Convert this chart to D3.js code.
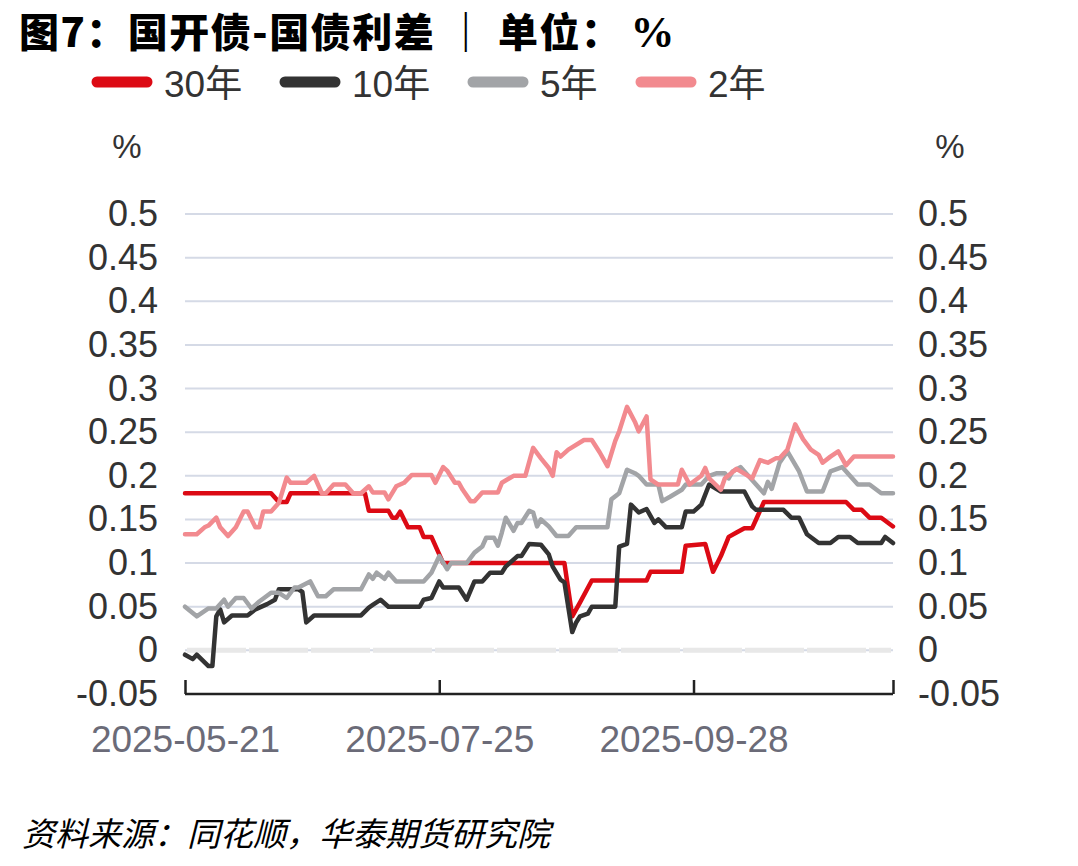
<!DOCTYPE html>
<html><head><meta charset="utf-8">
<script src="https://cdn.jsdelivr.net/npm/d3@7"></script>
<style>
html,body{margin:0;padding:0;background:#fff;}
svg{display:block;}
</style></head>
<body>
<svg id="chart" width="1078" height="866"></svg>
<script>
// ---- data ----
const seriesNames = ["30年", "10年", "5年", "2年"];
const seriesColors = ["#dc0a14", "#333333", "#a2a4a7", "#f28a8f"];

const dates30 = ["05-21","06-12","06-14","06-16","06-17","07-06","07-07","07-12","07-13","07-14","07-15","07-17","07-20","07-21","07-23","07-24","07-25","07-26","08-26","08-28","08-30","09-02","09-16","09-17","09-25","09-26","10-01","10-03","10-05","10-07","10-09","10-11","10-13","10-14","10-16","11-06","11-08","11-10","11-12","11-15","11-18"];
const vals30 = [0.18,0.18,0.17,0.17,0.18,0.18,0.16,0.16,0.152,0.152,0.159,0.141,0.141,0.13,0.13,0.12,0.11,0.10,0.10,0.039,0.055,0.08,0.08,0.09,0.09,0.12,0.122,0.09,0.108,0.13,0.135,0.14,0.14,0.15,0.17,0.17,0.161,0.161,0.152,0.152,0.142];

const dates10 = ["05-21","05-23","05-24","05-27","05-28","05-29","05-30","05-31","06-02","06-06","06-08","06-11","06-13","06-14","06-19","06-20","06-21","06-23","07-05","07-07","07-08","07-10","07-12","07-20","07-21","07-23","07-25","07-26","07-30","08-01","08-03","08-05","08-07","08-10","08-11","08-14","08-15","08-17","08-20","08-22","08-23","08-25","08-26","08-28","08-29","08-30","09-01","09-02","09-08","09-09","09-11","09-12","09-14","09-16","09-18","09-19","09-21","09-25","09-26","09-28","09-30","10-02","10-05","10-11","10-13","10-14","10-21","10-23","10-25","10-27","10-30","11-02","11-04","11-07","11-09","11-15","11-16","11-18"];
const vals10 = [-0.005,-0.01,-0.005,-0.018,-0.018,0.039,0.047,0.032,0.04,0.04,0.047,0.053,0.058,0.07,0.07,0.067,0.032,0.04,0.04,0.049,0.052,0.058,0.05,0.05,0.058,0.06,0.079,0.072,0.072,0.058,0.079,0.079,0.089,0.089,0.096,0.108,0.108,0.122,0.121,0.11,0.096,0.081,0.078,0.021,0.032,0.039,0.042,0.05,0.05,0.119,0.122,0.167,0.158,0.162,0.146,0.15,0.141,0.141,0.159,0.159,0.167,0.19,0.182,0.182,0.165,0.161,0.161,0.152,0.152,0.133,0.123,0.123,0.13,0.13,0.123,0.123,0.13,0.123];

const dates5 = ["05-21","05-24","05-27","05-29","05-31","06-01","06-03","06-05","06-07","06-09","06-12","06-14","06-16","06-18","06-19","06-22","06-24","06-26","06-28","07-05","07-07","07-08","07-09","07-11","07-12","07-14","07-21","07-23","07-25","07-27","07-28","08-01","08-03","08-05","08-06","08-08","08-09","08-10","08-11","08-13","08-14","08-15","08-17","08-18","08-19","08-20","08-22","08-24","08-27","08-29","09-06","09-07","09-09","09-11","09-13","09-14","09-16","09-19","09-20","09-22","09-25","09-26","09-30","10-02","10-04","10-06","10-07","10-08","10-10","10-12","10-14","10-16","10-17","10-18","10-20","10-22","10-25","10-27","10-31","11-02","11-05","11-07","11-09","11-12","11-15","11-18"];
const vals5 = [0.05,0.039,0.048,0.048,0.058,0.05,0.06,0.06,0.048,0.056,0.066,0.066,0.06,0.072,0.072,0.079,0.062,0.062,0.07,0.07,0.087,0.082,0.089,0.082,0.089,0.079,0.079,0.089,0.108,0.093,0.10,0.10,0.112,0.119,0.129,0.129,0.12,0.135,0.152,0.137,0.146,0.146,0.16,0.158,0.142,0.15,0.142,0.131,0.131,0.141,0.141,0.173,0.18,0.207,0.203,0.2,0.19,0.19,0.171,0.176,0.184,0.19,0.19,0.2,0.203,0.203,0.197,0.205,0.21,0.2,0.19,0.18,0.193,0.185,0.215,0.228,0.205,0.182,0.182,0.205,0.21,0.2,0.19,0.19,0.18,0.18];

const dates2 = ["05-21","05-24","05-26","05-27","05-29","05-30","06-01","06-03","06-05","06-06","06-08","06-09","06-10","06-12","06-14","06-16","06-17","06-21","06-23","06-25","06-26","06-28","07-01","07-03","07-05","07-07","07-08","07-11","07-12","07-14","07-16","07-18","07-23","07-24","07-26","07-27","07-29","07-30","07-31","08-02","08-03","08-05","08-09","08-10","08-13","08-16","08-18","08-20","08-22","08-23","08-24","08-25","08-27","08-31","09-02","09-04","09-06","09-08","09-09","09-11","09-13","09-14","09-16","09-17","09-19","09-24","09-25","09-27","09-30","10-01","10-02","10-05","10-06","10-09","10-13","10-15","10-17","10-19","10-20","10-22","10-24","10-26","10-28","10-30","10-31","11-02","11-04","11-06","11-08","11-18"];
const vals2 = [0.133,0.133,0.141,0.143,0.152,0.141,0.131,0.141,0.159,0.159,0.141,0.141,0.159,0.159,0.169,0.198,0.192,0.192,0.2,0.18,0.18,0.19,0.19,0.18,0.18,0.188,0.181,0.181,0.173,0.188,0.192,0.201,0.201,0.192,0.21,0.206,0.192,0.192,0.184,0.171,0.171,0.181,0.181,0.192,0.2,0.2,0.232,0.22,0.209,0.2,0.227,0.222,0.23,0.241,0.241,0.227,0.211,0.24,0.251,0.279,0.262,0.251,0.268,0.196,0.19,0.19,0.207,0.19,0.2,0.209,0.197,0.184,0.197,0.208,0.197,0.218,0.215,0.22,0.22,0.23,0.259,0.242,0.23,0.224,0.215,0.222,0.228,0.212,0.222,0.222];

const yTicks = [-0.05,0,0.05,0.1,0.15,0.2,0.25,0.3,0.35,0.4,0.45,0.5];
const xTickDates = ["2025-05-21","2025-07-25","2025-09-28","2025-11-18"];
const xTickLabels = ["2025-05-21","2025-07-25","2025-09-28",""];

// ---- drawing ----
const parse = d3.timeParse("%Y-%m-%d");
const mk = (ds, vs) => ds.map((d,i)=>({date: parse("2025-"+d), value: vs[i]}));
const series = [mk(dates30,vals30), mk(dates10,vals10), mk(dates5,vals5), mk(dates2,vals2)];

const svg = d3.select("#chart");
const pLeft = 185, pRight = 893, pTop = 214, pBottom = 694;
const x = d3.scaleTime().domain([parse("2025-05-21"), parse("2025-11-18")]).range([pLeft, pRight]);
const y = d3.scaleLinear().domain([-0.05, 0.5]).range([pBottom, pTop]);

const latin = "'Liberation Sans', Arial, 'Noto Sans CJK SC', sans-serif";
const cjk = "'Noto Sans CJK SC', 'Liberation Sans', sans-serif";

// title
const title = svg.append("text").attr("x", 19).attr("y", 47)
  .attr("font-family", cjk).attr("font-weight", 900).attr("font-size", 40)
  .attr("letter-spacing", 1.5).attr("fill", "#000");
title.append("tspan").text("图7：国开债-国债利差 ｜ 单位：");
title.append("tspan").attr("font-family", "'Liberation Serif', serif").attr("font-weight", 700)
  .attr("font-size", 44).attr("dx", 8).text("%");

// legend
const legendX = [92, 280, 468, 636];
seriesNames.forEach((n,i)=>{
  const g = svg.append("g");
  g.append("line").attr("x1", legendX[i]+5).attr("x2", legendX[i]+55)
    .attr("y1", 82).attr("y2", 82).attr("stroke", seriesColors[i])
    .attr("stroke-width", 11).attr("stroke-linecap","round");
  g.append("text").attr("x", legendX[i]+72).attr("y", 97)
    .attr("font-family", latin).attr("font-size", 37).attr("fill", "#333").text(n);
});

// unit labels
svg.append("text").attr("x", 127).attr("y", 158).attr("text-anchor","middle")
  .attr("font-family", latin).attr("font-size", 33).attr("fill","#333").text("%");
svg.append("text").attr("x", 950).attr("y", 158).attr("text-anchor","middle")
  .attr("font-family", latin).attr("font-size", 33).attr("fill","#333").text("%");

// gridlines
svg.append("g").selectAll("line").data(yTicks.filter(t=>t>-0.05)).join("line")
  .attr("x1", pLeft).attr("x2", pRight)
  .attr("y1", d=>y(d)).attr("y2", d=>y(d))
  .attr("stroke", "#d5dae6").attr("stroke-width", 2);

// zero band
svg.append("line").attr("x1", pLeft+2).attr("x2", pRight-2)
  .attr("y1", y(0)).attr("y2", y(0))
  .attr("stroke", "#e8e8e8").attr("stroke-width", 5)
  .attr("stroke-dasharray", "59,3");

// y axis labels
const fmt = d => String(+d.toFixed(2));
const yl = d3.axisLeft(y).tickValues(yTicks).tickSize(0).tickPadding(0).tickFormat(fmt);
const gl = svg.append("g").attr("transform", `translate(158,0)`).call(yl);
gl.select(".domain").remove();
gl.selectAll("text").attr("font-family", latin).attr("font-size", 36).attr("fill", "#333");

const yr = d3.axisRight(y).tickValues(yTicks).tickSize(0).tickPadding(0).tickFormat(fmt);
const gr = svg.append("g").attr("transform", `translate(918,0)`).call(yr);
gr.select(".domain").remove();
gr.selectAll("text").attr("font-family", latin).attr("font-size", 36).attr("fill", "#333");

// x axis
const xa = d3.axisBottom(x).tickValues(xTickDates.map(parse))
  .tickSizeInner(-14).tickSizeOuter(0).tickPadding(32)
  .tickFormat((d,i)=>xTickLabels[i]);
const gx = svg.append("g").attr("transform", `translate(0,${pBottom})`).call(xa);
gx.select(".domain").attr("stroke", "#222").attr("stroke-width", 2.5)
  .attr("d", `M${pLeft},0H${pRight}`);
gx.selectAll(".tick line").attr("stroke", "#222").attr("stroke-width", 2.5);
gx.selectAll("text").attr("font-family", latin).attr("font-size", 37).attr("fill", "#6b6b78");

// lines
const line = d3.line().x(d=>x(d.date)).y(d=>y(d.value));
series.forEach((s,i)=>{
  svg.append("path").datum(s).attr("d", line)
    .attr("fill","none").attr("stroke", seriesColors[i])
    .attr("stroke-width", 4.5).attr("stroke-linejoin","round").attr("stroke-linecap","round");
});

// footer
svg.append("text").attr("x", 22).attr("y", 846)
  .attr("font-family", cjk).attr("font-size", 33).attr("font-style","italic")
  .attr("fill", "#000").text("资料来源：同花顺，华泰期货研究院");
</script>
</body></html>
